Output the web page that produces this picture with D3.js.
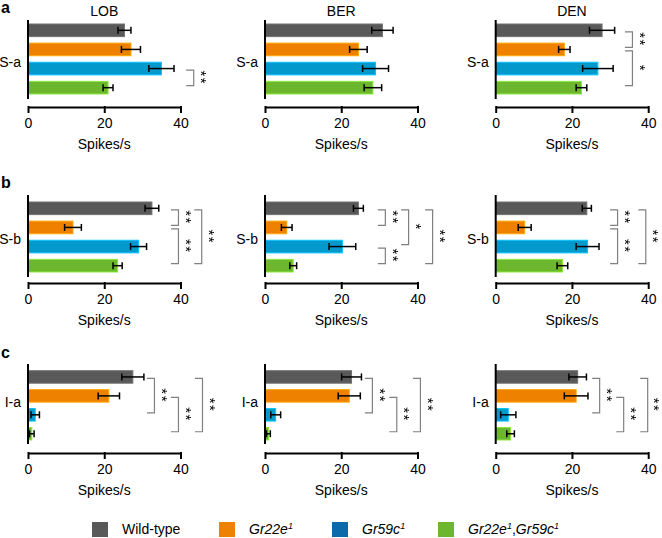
<!DOCTYPE html>
<html><head><meta charset="utf-8">
<script src="https://cdn.jsdelivr.net/npm/d3@7"></script>
<style>
html,body{margin:0;padding:0;background:#fff;}
svg{display:block;font-family:"Liberation Sans",Arial,Helvetica,sans-serif;}
.star{filter:grayscale(100%);}
</style></head>
<body><svg id="c" width="662" height="538"></svg>
<script>
// ---- data ----
const genotypes = ["Wild-type", "Gr22e1", "Gr59c1", "Gr22e1,Gr59c1"];
const compounds = ["LOB", "BER", "DEN"];
const sensilla = ["S-a", "S-b", "I-a"];
const panelLetters = ["a", "b", "c"];
const xTicks = [0, 20, 40];
const xLabel = "Spikes/s";

// means [compound][genotype]
const meanSa = [[25.3, 27.0, 35.0, 21.0], [30.8, 24.5, 29.0, 28.3], [27.9, 18.0, 26.8, 22.5]];
const semSa  = [[1.7, 2.5, 3.3, 1.3], [2.8, 2.3, 3.4, 2.3], [3.3, 1.5, 4.0, 1.4]];
const meanSb = [[32.5, 11.8, 29.0, 23.5], [24.5, 5.7, 20.3, 7.4], [23.9, 7.6, 24.1, 17.5]];
const semSb  = [[1.8, 2.2, 2.1, 1.2], [1.3, 1.4, 3.5, 0.9], [1.2, 1.7, 3.0, 1.4]];
const meanIa = [[27.5, 21.2, 1.9, 1.0], [22.7, 22.1, 2.8, 0.9], [21.5, 21.1, 3.3, 3.9]];
const semIa  = [[2.9, 2.8, 1.1, 0.6], [2.6, 2.9, 1.3, 0.5], [2.3, 3.1, 2.0, 1.0]];

// significance: [row, compound, fromGenotype, toGenotype, position (Spikes/s), label]
const sigs = [
  [0,0,2,3,41.5,"**"], [0,2,0,1,33.9,"**"], [0,2,1,3,33.9,"*"],
  [1,0,0,1,37.5,"**"], [1,0,1,3,37.5,"**"], [1,0,0,3,43.6,"**"],
  [1,1,0,1,29.6,"**"], [1,1,0,2,35.7,"*"], [1,1,2,3,29.6,"**"], [1,1,0,3,42.0,"**"],
  [1,2,0,1,30.0,"**"], [1,2,1,3,30.0,"**"], [1,2,0,3,37.4,"**"],
  [2,0,0,2,31.2,"**"], [2,0,1,3,37.5,"**"], [2,0,0,3,43.8,"**"],
  [2,1,0,2,26.2,"**"], [2,1,1,3,32.6,"**"], [2,1,0,3,38.8,"**"],
  [2,2,0,2,25.3,"**"], [2,2,1,3,31.6,"**"], [2,2,0,3,37.9,"**"]
];

const means = [meanSa, meanSb, meanIa];
const sems = [semSa, semSb, semIa];

// ---- styling / layout ----
const barColors = ["#595959", "#ee8100", "#0399cc", "#6cb72e"];
const legendColors = ["#595959", "#ee8100", "#0b6aa9", "#6cb72e"];
const colX0 = [28, 265, 495.7];
const axisW = 152.5;
const rows = [
  {barTop: 24, barBot: 94, axTop: 20, axBot: 99, xAxisY: 107, labelY: 67, letterY: 13},
  {barTop: 202, barBot: 272, axTop: 195, axBot: 277, xAxisY: 283, labelY: 244, letterY: 188},
  {barTop: 370.7, barBot: 440, axTop: 364, axBot: 444, xAxisY: 453, labelY: 407, letterY: 357.5}
];

const svg = d3.select("#c");

rows.forEach((rg, r) => {
  svg.append("text").attr("x", 1).attr("y", rg.letterY)
    .attr("font-size", 16).attr("font-weight", "bold").text(panelLetters[r]);

  const y = d3.scaleBand().domain(d3.range(genotypes.length))
    .range([rg.barTop, rg.barBot]).paddingInner(0.34).paddingOuter(0);

  compounds.forEach((cmp, c) => {
    const x = d3.scaleLinear().domain([0, 40]).range([colX0[c], colX0[c] + axisW]);
    const g = svg.append("g");

    if (r === 0) {
      g.append("text").attr("x", x(20)).attr("y", 16).attr("text-anchor", "middle")
        .attr("font-size", 14).text(cmp);
    }

    const vals = means[r][c].map((m, i) => ({i, m, s: sems[r][c][i]}));

    g.selectAll("rect.bar").data(vals).join("rect")
      .attr("x", x(0)).attr("y", d => y(d.i))
      .attr("width", d => x(d.m) - x(0)).attr("height", y.bandwidth())
      .attr("fill", d => barColors[d.i])
      .attr("stroke", d => d3.color(barColors[d.i]).brighter(0.7))
      .attr("stroke-width", 1);

    // error bars
    const eb = g.selectAll("g.eb").data(vals).join("g")
      .attr("stroke", "#000").attr("stroke-width", 1.5).attr("fill", "none");
    const cy = d => y(d.i) + y.bandwidth() / 2;
    const lo = d => x(Math.max(0, d.m - d.s));
    const hi = d => x(d.m + d.s);
    eb.append("line").attr("x1", lo).attr("x2", hi).attr("y1", cy).attr("y2", cy);
    eb.append("line").attr("x1", hi).attr("x2", hi)
      .attr("y1", d => cy(d) - 3.5).attr("y2", d => cy(d) + 3.5);
    eb.append("line").attr("x1", lo).attr("x2", lo)
      .attr("y1", d => cy(d) - 3.5).attr("y2", d => cy(d) + 3.5);

    // vertical axis line
    g.append("line").attr("x1", x(0)).attr("x2", x(0)).attr("y1", rg.axTop).attr("y2", rg.axBot)
      .attr("stroke", "#000").attr("stroke-width", 2);
    g.append("text").attr("x", x(0) - 7).attr("y", rg.labelY).attr("text-anchor", "end")
      .attr("font-size", 14).text(sensilla[r]);

    // x axis
    const ax = g.append("g").attr("transform", `translate(0,${rg.xAxisY})`)
      .call(d3.axisBottom(x).tickValues(xTicks).tickSize(6).tickSizeOuter(0).tickPadding(5));
    ax.select(".domain").attr("stroke", "#000").attr("stroke-width", 2);
    ax.selectAll(".tick line").attr("stroke", "#000").attr("stroke-width", 2).attr("y1", -1);
    ax.selectAll(".tick text").attr("font-size", 14).attr("fill", "#000")
      .attr("font-family", "'Liberation Sans',Arial,sans-serif");
    g.append("text").attr("x", x(20)).attr("y", rg.xAxisY + 41.5).attr("text-anchor", "middle")
      .attr("font-size", 14).text(xLabel);

    // significance brackets
    sigs.filter(s => s[0] === r && s[1] === c).forEach(s => {
      const cy1 = y(s[2]) + y.bandwidth() / 2 + 1.5;
      const cy2 = y(s[3]) + y.bandwidth() / 2 - 2;
      const bx = x(s[4]);
      g.append("path")
        .attr("d", `M${bx},${cy1}H${bx + 7.5}V${cy2}H${bx}`)
        .attr("fill", "none").attr("stroke", "#808080").attr("stroke-width", 1.2);
      const sx = Math.min(bx + 18.5, 657), sy = (cy1 + cy2) / 2;
      g.append("text").attr("class", "star")
        .attr("transform", `translate(${sx - 8.5},${sy}) rotate(90)`)
        .attr("text-anchor", "middle").attr("font-size", 15).attr("letter-spacing", 1.5)
        .attr("fill", "#000").text(s[5]);
    });
  });
});

// legend
const legX = [92, 219, 332, 438];
const lg = svg.append("g");
genotypes.forEach((gt, i) => {
  lg.append("rect").attr("x", legX[i]).attr("y", 522).attr("width", 16).attr("height", 15)
    .attr("fill", legendColors[i]);
  const t = lg.append("text").attr("x", legX[i] + 30).attr("y", 533.5).attr("font-size", 14);
  if (i === 0) { t.text(gt); return; }
  t.attr("font-style", "italic");
  gt.split(",").forEach((part, k) => {
    if (k > 0) t.append("tspan").attr("font-style", "normal").attr("dy", 5).text(",");
    t.append("tspan").text(part.slice(0, -1));
    t.append("tspan").attr("font-size", 9).attr("dy", -5).text(part.slice(-1));
  });
});
</script></body></html>
